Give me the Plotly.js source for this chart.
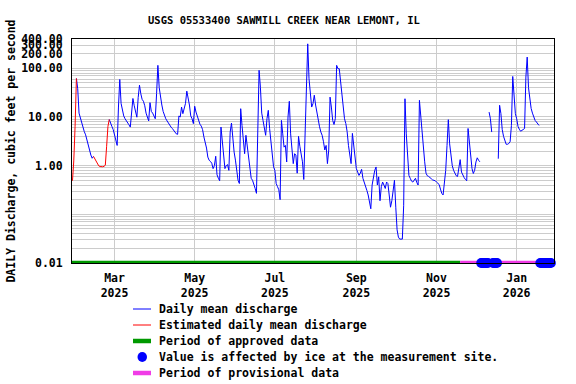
<!DOCTYPE html>
<html><head><meta charset="utf-8">
<script src="https://cdn.plot.ly/plotly-3.0.1.min.js"></script>
<style>html,body{margin:0;padding:0;background:#fff}#chart{width:576px;height:384px}</style>
</head><body><div id="chart"></div>
<script>
// ---- data ----
const startDate = '2025-01-28';
const discharge = [
0.49,1.25,6.4,62,38,12,9.5,7.4,5.6,5.0,
4.3,3.3,2.4,1.95,1.65,1.42,1.55,1.38,1.2,1.08,
0.99,0.96,0.95,0.95,0.97,1.02,2.5,6.4,8.9,7.1,
6.4,5.5,4.4,3.3,2.6,16,59,19,13,10.5,
9.2,8.5,7.5,6.9,6.2,12,24,17,11.7,9.9,
25,45,30,23,21,17,12,10,8.3,19.7,
13,12,10.5,9.2,30,115,40,25,17.6,13,
10.5,9.2,8.3,7.5,6.6,6.2,5.8,5.3,4.9,4.5,
4.4,10.5,10,16,11.7,16,19,34,25.6,17.6,
10.5,9.2,7.3,16.6,12.6,10,8,7.1,6.5,5.5,
3.9,3.1,2.3,1.5,1.29,1.22,1.12,0.87,1.0,1.56,
0.65,0.55,0.49,6.2,3.1,1.9,0.87,1.0,1.05,0.8,
4.9,7.5,3.1,1.9,1.3,0.69,0.5,0.43,14.8,6.7,
3.3,1.76,4.2,2.5,1.3,0.75,0.55,0.5,0.43,0.34,
0.27,7.9,91,41,12,8.5,6.2,4.2,9.2,13.7,
5.8,2.8,1.5,0.95,0.8,0.43,0.37,0.32,0.2,8.5,
4.5,2.4,2.6,1.19,10,21,4.5,2.0,1.1,1.76,
1.65,0.7,4.0,2.5,1.5,1.2,0.52,4.9,57,318,
61,28,16,18.8,28,17.6,11.7,9.2,6.3,4.9,
4.2,3.1,2.1,2.6,1.1,2.1,25.6,16,8.5,7,
9.2,115,98,98,52,28,12.6,9.2,7.3,5.0,
2.6,1.5,1.1,4.6,2.8,1.5,0.87,0.74,0.63,0.7,
0.84,0.55,0.46,0.40,0.31,0.25,0.19,0.13,0.4,0.63,
0.8,0.94,0.40,0.59,0.19,0.37,0.46,0.40,0.34,0.46,
0.43,0.25,0.14,0.19,0.34,0.50,0.14,0.048,0.034,0.031,
0.031,0.031,0.15,23.7,4.5,1.3,0.63,0.55,0.48,0.46,
0.50,0.55,0.45,0.40,22,10,4.5,2.2,1.2,0.7,
0.62,0.60,0.58,0.54,0.51,0.50,0.49,0.46,0.43,0.41,
0.33,0.27,0.25,0.43,0.8,2.6,8.8,2.8,1.65,1.0,
0.8,0.7,0.62,0.6,1.0,1.33,0.74,0.63,0.57,0.52,
0.49,5.8,3.2,1.5,0.87,0.69,0.8,1.19,1.45,1.29,
1.2,null,null,null,null,null,null,12.6,9.2,4.9,
null,null,null,null,1.39,17.4,11.7,5.5,4.0,3.1,
2.75,2.75,2.85,3.1,6.7,68,22,11.7,9.2,6.4,
5.6,5.1,5.3,5.5,5.8,66,170,40,22,15,
12,10,8.5,7.9,7.3,6.7
];
const estimatedRanges = [['2025-01-28','2025-01-31'],['2025-02-13','2025-02-25']];
const iceDates = ['2025-12-05','2025-12-06','2025-12-07','2025-12-08','2025-12-09','2025-12-10',
  '2025-12-14','2025-12-15','2025-12-16','2025-12-17',
  '2026-01-19','2026-01-20','2026-01-21','2026-01-22','2026-01-23','2026-01-24','2026-01-25','2026-01-26','2026-01-27'];
const approvedPeriod = ['2025-01-27 15:30','2025-11-19'];
const provisionalPeriod = ['2025-11-19','2026-01-29 09:30'];
const xRange = ['2025-01-27 15:30','2026-01-29 09:30'];
const xTickVals = ['2025-03-01','2025-05-01','2025-07-01','2025-09-01','2025-11-01','2026-01-01'];
const xTickText = ['Mar<br>2025','May<br>2025','Jul<br>2025','Sep<br>2025','Nov<br>2025','Jan<br>2026'];
const yTickVals = [0.01,1,10,100,200,300,400];
const yTickText = ['0.01','1.00','10.00','100.00','200.00','300.00','400.00'];
const legendLabels = ['Daily mean discharge','Estimated daily mean discharge','Period of approved data',
  'Value is affected by ice at the measurement site.','Period of provisional data'];
const titleText = 'USGS 05533400 SAWMILL CREEK NEAR LEMONT, IL';
const yTitle = 'DAILY Discharge, cubic feet per second';

// ---- build ----
const BLUE='#0000ff', RED='#ff0000', GREEN='#009900', MAG='#f03ce6';
const FONT='DejaVu Sans Mono';
function addDays(s,n){const d=new Date(s+'T00:00:00Z');d.setUTCDate(d.getUTCDate()+n);return d.toISOString().slice(0,10);}
const dates = discharge.map((_,i)=>addDays(startDate,i));
function inClosed(d){return estimatedRanges.some(r=>d>=r[0]&&d<=r[1]);}
function inOpen(d){return estimatedRanges.some(r=>d>r[0]&&d<r[1]);}
const blueY = discharge.map((v,i)=> inOpen(dates[i])?null:v);
const redY = discharge.map((v,i)=> inClosed(dates[i])?v:null);

const traces = [
 {x:approvedPeriod,y:[0.01,0.01],mode:'lines',line:{color:GREEN,width:4.5},cliponaxis:false,name:legendLabels[2],hoverinfo:'skip'},
 {x:provisionalPeriod,y:[0.01,0.01],mode:'lines',line:{color:MAG,width:4.5},cliponaxis:false,name:legendLabels[4],hoverinfo:'skip'},
 {x:dates,y:blueY,mode:'lines',line:{color:BLUE,width:1},connectgaps:false,name:legendLabels[0]},
 {x:dates,y:redY,mode:'lines',line:{color:RED,width:1},connectgaps:false,name:legendLabels[1]},
 {x:iceDates,y:iceDates.map(()=>0.01),mode:'markers',marker:{color:BLUE,size:10,symbol:'circle'},cliponaxis:false,name:legendLabels[3]}
];

const PL=72, PR=554, PT=39, PB=263;
const xp = px => (px-PL)/(PR-PL);
const yp = py => (PB-py)/(PB-PT);
const rows=[309,325,341,357,373];
const shapes=[
 {type:'line',xref:'paper',yref:'paper',x0:xp(133),x1:xp(151),y0:yp(rows[0]),y1:yp(rows[0]),line:{color:BLUE,width:1}},
 {type:'line',xref:'paper',yref:'paper',x0:xp(133),x1:xp(151),y0:yp(rows[1]),y1:yp(rows[1]),line:{color:RED,width:1}},
 {type:'line',xref:'paper',yref:'paper',x0:xp(133),x1:xp(151),y0:yp(rows[2]),y1:yp(rows[2]),line:{color:GREEN,width:4.5}},
 {type:'circle',xref:'paper',yref:'paper',x0:xp(137.5),x1:xp(147),y0:yp(rows[3]+5),y1:yp(rows[3]-5),fillcolor:BLUE,line:{width:0}},
 {type:'line',xref:'paper',yref:'paper',x0:xp(133),x1:xp(151),y0:yp(rows[4]),y1:yp(rows[4]),line:{color:MAG,width:4.5}}
];
const lf={family:FONT,size:11.5,color:'#000',weight:'bold'};
const annotations = legendLabels.map((t,i)=>({xref:'paper',yref:'paper',x:xp(157),y:yp(rows[i]),xanchor:'left',yanchor:'middle',text:t,showarrow:false,font:lf}));

const layout = {
 width:576,height:384,paper_bgcolor:'#fff',plot_bgcolor:'#fff',showlegend:false,
 margin:{l:PL,r:576-PR,t:PT,b:384-PB,pad:0},
 title:{text:titleText,font:{family:FONT,size:10.5,color:'#000',weight:'bold'},x:0.493,xanchor:'center',xref:'container',y:1-20/384,yanchor:'middle',yref:'container'},
 xaxis:{type:'date',range:xRange,tickmode:'array',tickvals:xTickVals,ticktext:xTickText,
   showgrid:true,gridcolor:'#cccccc',gridwidth:1,showline:true,linecolor:'#000',linewidth:1,mirror:true,
   ticks:'',zeroline:false,tickfont:lf,ticklabelstandoff:4,fixedrange:true},
 yaxis:{type:'log',range:[-2,Math.log10(400)],tickmode:'array',tickvals:yTickVals,ticktext:yTickText,
   showgrid:true,gridcolor:'#cccccc',gridwidth:1,showline:true,linecolor:'#000',linewidth:1,mirror:true,
   ticks:'',zeroline:false,tickfont:lf,ticklabelstandoff:6,
   minor:{tickmode:'array',tickvals:(function(){const v=[];[0.01,0.1,1,10,100].forEach(d=>{for(let k=2;k<=9;k++){v.push(+(d*k).toPrecision(3));}});v.push(0.1,1,10,100);return v;})(),showgrid:true,gridcolor:'#cccccc',gridwidth:1,ticks:''},
   title:{text:yTitle,font:lf,standoff:3},fixedrange:true},
 shapes:shapes, annotations:annotations
};
Plotly.newPlot('chart',traces,layout,{displayModeBar:false,staticPlot:true});
</script></body></html>
